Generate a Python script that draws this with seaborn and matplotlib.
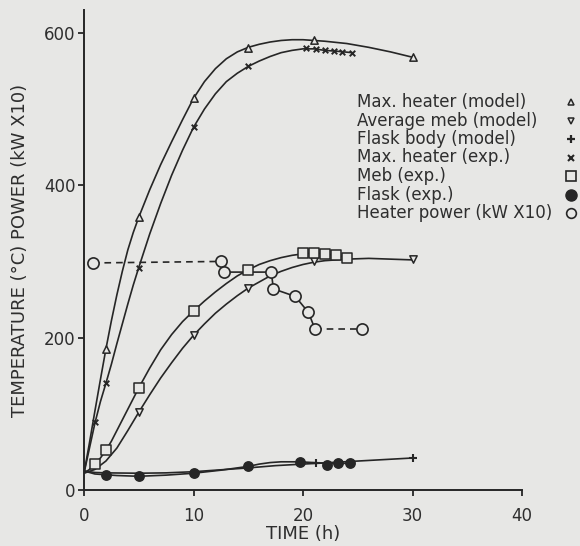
import matplotlib
matplotlib.use("Agg")
import matplotlib.pyplot as plt
import seaborn as sns
from matplotlib.lines import Line2D

# ---------------- data ----------------
# Max. heater (model): curve + markers
mh_model_curve_t = [0, 0.5, 1, 1.5, 2, 2.5, 3, 3.5, 4, 4.5, 5, 6, 7, 8, 9, 10, 11, 12, 13, 14,
                    15, 16, 17, 18, 19, 20, 22, 24, 26, 28, 30]
mh_model_curve_v = [22, 62, 104, 145, 185, 222, 256, 287, 315, 338, 358, 394, 427, 457, 486, 514,
                    536, 553, 566, 575, 581, 585, 588, 590, 591, 591, 589, 586, 581, 575, 568]
mh_model_t = [2, 5, 10, 15, 21, 30]
mh_model_v = [185, 358, 514, 580, 590, 568]

# Max. heater (exp.)
mh_exp_curve_t = [0, 0.5, 1, 1.5, 2, 2.5, 3, 3.5, 4, 4.5, 5, 6, 7, 8, 9, 10, 11, 12, 13, 14,
                  15, 16, 17, 18, 19, 20, 21, 22, 23, 24.5]
mh_exp_curve_v = [22, 55, 88, 116, 140, 165, 192, 218, 244, 269, 292, 336, 376, 413, 446, 476,
                  500, 520, 536, 547, 556, 563, 569, 574, 577, 579, 579, 577, 576, 574]
mh_exp_t = [1, 2, 5, 10, 15, 20.3, 21.2, 22.0, 22.8, 23.6, 24.5]
mh_exp_v = [89, 140, 292, 476, 556, 580, 579, 577, 576, 575, 574]

# Average meb (model)
meb_model_curve_t = [0, 1, 2, 3, 4, 5, 6, 7, 8, 9, 10, 11, 12, 13, 14, 15, 16, 17, 18, 19, 20,
                     21, 22, 24, 26, 28, 30]
meb_model_curve_v = [22, 27, 38, 55, 78, 102, 125, 147, 167, 186, 203, 218, 232, 244, 255, 265,
                     273, 281, 287, 292, 296, 299, 301, 303, 304, 303, 302]
meb_model_t = [5, 10, 15, 21, 30]
meb_model_v = [102, 203, 265, 300, 303]

# Meb (exp.)
meb_exp_curve_t = [0, 0.5, 1, 1.5, 2, 2.5, 3, 3.5, 4, 4.5, 5, 6, 7, 8, 9, 10, 11, 12, 13, 14,
                   15, 16, 17, 18, 19, 20, 21, 22, 23, 24]
meb_exp_curve_v = [22, 27, 34, 42, 52, 64, 78, 92, 106, 120, 134, 160, 184, 204, 221, 235, 248,
                   260, 271, 281, 289, 296, 301, 305, 308, 310, 311, 310, 308, 305]
meb_exp_t = [1, 2, 5, 10, 15, 20, 21, 22, 23, 24]
meb_exp_v = [34, 52, 134, 235, 289, 311, 311, 310, 308, 305]

# Flask body (model)
fl_model_curve_t = [0, 1, 2, 5, 7.5, 10, 12.5, 15, 17.5, 20, 22.5, 25, 27.5, 30]
fl_model_curve_v = [25, 23, 22.5, 22, 22.5, 24, 26.5, 29, 32, 34, 36, 38, 40, 42]
fl_model_t = [21.2, 30]
fl_model_v = [35, 42]

# Flask (exp.)
fl_exp_curve_t = [0, 1, 2, 3, 5, 7.5, 10, 12.5, 15, 16, 17, 18, 19.7, 22.2, 24.3]
fl_exp_curve_v = [25, 21, 20, 19, 18, 19.5, 22, 26, 31, 34, 36, 37, 37, 35, 35]
fl_exp_t = [2, 5, 10, 15, 19.7, 22.2, 23.2, 24.3]
fl_exp_v = [20, 18, 22, 31, 37, 33, 36, 35]

# Heater power (kW x 10)
hp_t = [0.8, 12.5, 12.8, 17.1, 17.3, 19.3, 20.5, 21.1, 25.4]
hp_v = [298, 300, 286, 286, 264, 254, 233, 211, 211]

x_ticks = [0, 10, 20, 30, 40]
y_ticks = [0, 200, 400, 600]

legend_labels = ["Max. heater (model)", "Average meb (model)", "Flask body (model)",
                 "Max. heater (exp.)", "Meb (exp.)", "Flask (exp.)",
                 "Heater power (kW X10)"]

# ---------------- style ----------------
BG = "#e7e7e5"
INK = "#262626"
TXT = "#2e2e2e"

sns.set_style("ticks")
plt.rcParams["font.family"] = ["DejaVu Sans"]

fig = plt.figure(figsize=(5.8, 5.46), dpi=100, facecolor=BG)
ax = fig.add_axes([84 / 580, 56 / 546, 438 / 580, 480 / 546])
ax.set_facecolor(BG)

LW = 1.2

def curve(t, v, ls="-"):
    sns.lineplot(x=t, y=v, ax=ax, color=INK, lw=LW, linestyle=ls,
                 estimator=None, sort=False, legend=False)

curve(mh_model_curve_t, mh_model_curve_v)
curve(mh_exp_curve_t, mh_exp_curve_v)
curve(meb_model_curve_t, meb_model_curve_v)
curve(meb_exp_curve_t, meb_exp_curve_v)
curve(fl_model_curve_t, fl_model_curve_v)
curve(fl_exp_curve_t, fl_exp_curve_v)

# heater power: dashed / solid / dashed
sns.lineplot(x=hp_t[0:2], y=hp_v[0:2], ax=ax, color=INK, lw=LW, linestyle=(0, (4, 3)),
             estimator=None, sort=False, legend=False)
sns.lineplot(x=hp_t[1:8], y=hp_v[1:8], ax=ax, color=INK, lw=LW,
             estimator=None, sort=False, legend=False)
sns.lineplot(x=hp_t[7:9], y=hp_v[7:9], ax=ax, color=INK, lw=LW, linestyle=(0, (4, 3)),
             estimator=None, sort=False, legend=False)

def pts(t, v, marker, s, fill, lw=1.1):
    if marker in ("x", "+"):
        sns.scatterplot(x=t, y=v, ax=ax, marker=marker, s=s, color=INK,
                        linewidth=lw, zorder=4, legend=False)
    else:
        sns.scatterplot(x=t, y=v, ax=ax, marker=marker, s=s, color=fill,
                        edgecolor=INK, linewidth=lw, zorder=4, legend=False)

pts(mh_model_t, mh_model_v, "^", 28, BG)
pts(mh_exp_t, mh_exp_v, "x", 16, INK, lw=1.4)
pts(meb_model_t, meb_model_v, "v", 28, BG)
pts(meb_exp_t, meb_exp_v, "s", 55, BG)
pts(fl_model_t, fl_model_v, "+", 40, INK, lw=1.5)
pts(fl_exp_t, fl_exp_v, "o", 45, INK)
pts(hp_t, hp_v, "o", 65, BG, lw=1.2)

# ---------------- axes ----------------
ax.set_xlim(0, 40)
ax.set_ylim(0, 630)
ax.set_xticks(x_ticks)
ax.set_yticks(y_ticks)
sns.despine(ax=ax)
for sp in ("left", "bottom"):
    ax.spines[sp].set_color(INK)
    ax.spines[sp].set_linewidth(1.4)
ax.tick_params(axis="both", direction="out", length=4, width=1.3, color=INK,
               labelsize=12, labelcolor=TXT)
ax.tick_params(axis="x", pad=8)
ax.tick_params(axis="y", pad=2)

ax.set_xlabel("TIME (h)", fontsize=13, color=TXT)
ax.set_ylabel("TEMPERATURE (°C) POWER (kW X10)", fontsize=13, color=TXT)
ax.xaxis.set_label_coords(0.5, (490 - 525) / 480)
ax.yaxis.set_label_coords((29 - 84) / 438, 0.5)

# ---------------- legend (text column left-aligned, symbols in a column at right) ----------------
legend_styles = [
    dict(marker="^", ms=5, mfc=BG, mec=INK, mew=1.1),
    dict(marker="v", ms=5, mfc=BG, mec=INK, mew=1.1),
    dict(marker="+", ms=6, mec=INK, mew=1.6),
    dict(marker="x", ms=4, mec=INK, mew=1.5),
    dict(marker="s", ms=7.5, mfc=BG, mec=INK, mew=1.2),
    dict(marker="o", ms=8, mfc=INK, mec=INK, mew=1.0),
    dict(marker="o", ms=7, mfc=BG, mec=INK, mew=1.2),
]
row0, step = 102, 18.5
for i, (lab, st) in enumerate(zip(legend_labels, legend_styles)):
    yy = 1 - (row0 + i * step) / 546
    fig.text(357 / 580, yy, lab, fontsize=12, color=TXT, ha="left", va="center")
    fig.add_artist(Line2D([571 / 580], [yy], transform=fig.transFigure, ls="none", **st))

fig.savefig("out.png", dpi=100, facecolor=BG)
